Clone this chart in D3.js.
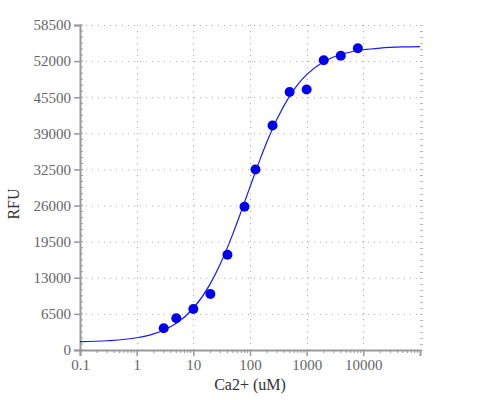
<!DOCTYPE html>
<html><head><meta charset="utf-8">
<script src="https://cdn.jsdelivr.net/npm/d3@7"></script>
<style>body{margin:0;background:#fff}svg{display:block}</style>
</head><body>
<svg id="c" width="500" height="400" font-family="DejaVu Serif"></svg>
<script>
// Measured points
const concentrations = [3, 5, 10, 20, 40, 80, 125, 250, 500, 1000, 2000, 4000, 8000];
const rfuValues = [3900, 5700, 7380, 10080, 17160, 25800, 32500, 40400, 46450, 46900, 52150, 52980, 54300];
// Fitted curve
const curveX = [0.1, 0.3, 1, 2, 3, 5, 10, 20, 30, 50, 70, 100, 150, 200, 300, 500, 700, 1000, 2000, 3000, 5000, 10000, 20000, 50000, 100000];
const curveY = [1495, 1663, 2200, 2903, 3563, 4795, 7514, 11954, 15508, 20942, 24952, 29354, 34266, 37515, 41585, 45709, 47814, 49572, 51880, 52734, 53460, 54041, 54352, 54551, 54622];
const xTicks = [0.1, 1, 10, 100, 1000, 10000];
const yTicks = [0, 6500, 13000, 19500, 26000, 32500, 39000, 45500, 52000, 58500];
const xTitle = "Ca2+ (uM)";
const yTitle = "RFU";

const svg = d3.select("#c");
const L = 80, R = 420, T = 25, B = 350;
const x = d3.scaleLog().domain([0.1, 100000]).range([L, R]);
const y = d3.scaleLinear().domain([0, 58500]).range([B, T]);
const FONT = "Liberation Serif";

// grid
const g = svg.append("g");
g.selectAll("line.gy").data(yTicks.slice(1)).join("line")
  .attr("x1", L).attr("x2", R).attr("y1", d => y(d)+0.5).attr("y2", d => y(d)+0.5)
  .attr("stroke", "#aaa").attr("stroke-dasharray", "1,5");
g.selectAll("line.gx").data(xTicks.slice(1)).join("line")
  .attr("y1", T).attr("y2", B).attr("x1", d => Math.round(x(d))+0.5).attr("x2", d => Math.round(x(d))+0.5)
  .attr("stroke", "#aaa").attr("stroke-dasharray", "1,5");

// right minor ticks
const yMinor = d3.range(0, 58500 + 1, 6500/6);
svg.append("g").selectAll("line").data(yMinor).join("line")
  .attr("x1", R).attr("x2", R+3).attr("y1", d => Math.round(y(d))+0.5).attr("y2", d => Math.round(y(d))+0.5)
  .attr("stroke", "#bbb");

// axes
const xAxis = d3.axisBottom(x).tickValues(xTicks).tickFormat(d => String(d)).tickSize(6).tickPadding(3);
const xa = svg.append("g").attr("transform", `translate(0,${B})`).call(xAxis);
const xMinor = [];
for (let e = -1; e < 5; e++) for (let k = 2; k <= 9; k++) xMinor.push(k * Math.pow(10, e));
xa.append("g").selectAll("line").data(xMinor).join("line")
  .attr("x1", d => x(d)).attr("x2", d => x(d)).attr("y1", 0).attr("y2", 3).attr("stroke", "#999");

const yAxis = d3.axisLeft(y).tickValues(yTicks).tickFormat(d => String(d)).tickSize(6).tickPadding(3);
const ya = svg.append("g").attr("transform", `translate(${L},0)`).call(yAxis);
ya.append("g").selectAll("line").data(yMinor).join("line")
  .attr("x1", 0).attr("x2", 3).attr("y1", d => y(d)).attr("y2", d => y(d)).attr("stroke", "#999");

[xa, ya].forEach(a => {
  a.attr("font-family", FONT).attr("font-size", 15);
  a.select(".domain").attr("stroke", "#999").attr("stroke-width", 2);
  a.selectAll(".tick line").attr("stroke", "#999").attr("stroke-width", 1.5);
  a.selectAll(".tick text").attr("fill", "#666").attr("font-family", FONT);
});

// curve
const line = d3.line().x((d, i) => x(curveX[i])).y(d => y(d)).curve(d3.curveMonotoneX);
svg.append("path").datum(curveY).attr("d", line).attr("fill", "none").attr("stroke", "#1a1aff").attr("stroke-width", 1.2);

// points
svg.append("g").selectAll("circle").data(rfuValues).join("circle")
  .attr("cx", (d, i) => x(concentrations[i])).attr("cy", d => y(d)).attr("r", 5).attr("fill", "#0000ee");

// titles
svg.append("text").attr("x", 250).attr("y", 390).attr("text-anchor", "middle")
  .attr("font-family", FONT).attr("font-size", 16).attr("fill", "#333").text(xTitle);
svg.append("text").attr("transform", "translate(19,204) rotate(-90)").attr("text-anchor", "middle")
  .attr("font-family", FONT).attr("font-size", 16).attr("fill", "#333").text(yTitle);
</script>
</body></html>
